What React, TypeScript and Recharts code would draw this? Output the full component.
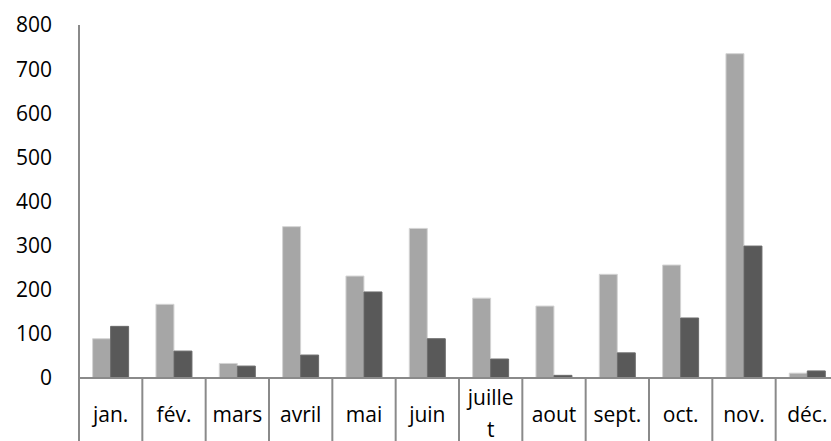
import { BarChart, Bar, XAxis, YAxis } from "recharts";

const months = ["jan.", "fév.", "mars", "avril", "mai", "juin", "juillet", "aout", "sept.", "oct.", "nov.", "déc."];
const seriesA = [89, 167, 33, 343, 231, 339, 181, 163, 235, 256, 735, 11];
const seriesB = [117, 61, 27, 52, 195, 89, 43, 6, 57, 136, 299, 16];
const yTicks = [0, 100, 200, 300, 400, 500, 600, 700, 800];

const data = months.map((m, i) => ({ month: m, a: seriesA[i], b: seriesB[i] }));

const W = 850;
const H = 441;
const LEFT = 79;
const RIGHT = 11;
const BAND = (W - LEFT - RIGHT) / months.length;
const FONT = "'Open Sans', sans-serif";
const FS = 21;
const AXIS = "#8a8a8a";

function MonthTick(props: any) {
  const { x, y, payload, index } = props;
  const label: string = payload.value;
  // excel wraps "juillet" inside its cell
  const lines = label.length > 6 ? [label.slice(0, 6), label.slice(6)] : [label];
  return (
    <g>
      {index === 0 && <line x1={x - BAND / 2} y1={y} x2={x - BAND / 2} y2={H} stroke={AXIS} strokeWidth={2} />}
      <line x1={x + BAND / 2} y1={y} x2={x + BAND / 2} y2={H} stroke={AXIS} strokeWidth={2} />
      {lines.length === 1 ? (
        <text x={x} y={y + 44} textAnchor="middle" fontSize={FS} fill="#000" fontFamily={FONT}>
          {label}
        </text>
      ) : (
        <text textAnchor="middle" fontSize={FS} fill="#000" fontFamily={FONT}>
          <tspan x={x} y={y + 27}>{lines[0]}</tspan>
          <tspan x={x} y={y + 59}>{lines[1]}</tspan>
        </text>
      )}
    </g>
  );
}

export default function App() {
  return (
    <div style={{ position: "absolute", left: 0, top: 0, width: 831, height: 441, overflow: "hidden", background: "#fff" }}>
      <BarChart width={W} height={H} data={data} margin={{ top: 25, right: RIGHT, bottom: 0, left: 0 }} barCategoryGap="21.5%" barGap={0}>
        <XAxis
          dataKey="month"
          height={63}
          axisLine={{ stroke: AXIS, strokeWidth: 2 }}
          tickLine={false}
          tickSize={0}
          tickMargin={0}
          interval={0}
          tick={<MonthTick />}
        />
        <YAxis
          width={LEFT}
          domain={[0, 800]}
          ticks={yTicks}
          interval={0}
          axisLine={{ stroke: AXIS, strokeWidth: 2 }}
          tickLine={false}
          tickSize={6}
          tickMargin={21}
          tick={{ fontSize: FS, fill: "#000", fontFamily: FONT }}
        />
        <Bar dataKey="a" fill="#a6a6a6" stroke="#d4d4d4" strokeWidth={1} isAnimationActive={false} />
        <Bar dataKey="b" fill="#595959" stroke="#6a6a6a" strokeWidth={1} isAnimationActive={false} />
      </BarChart>
    </div>
  );
}
